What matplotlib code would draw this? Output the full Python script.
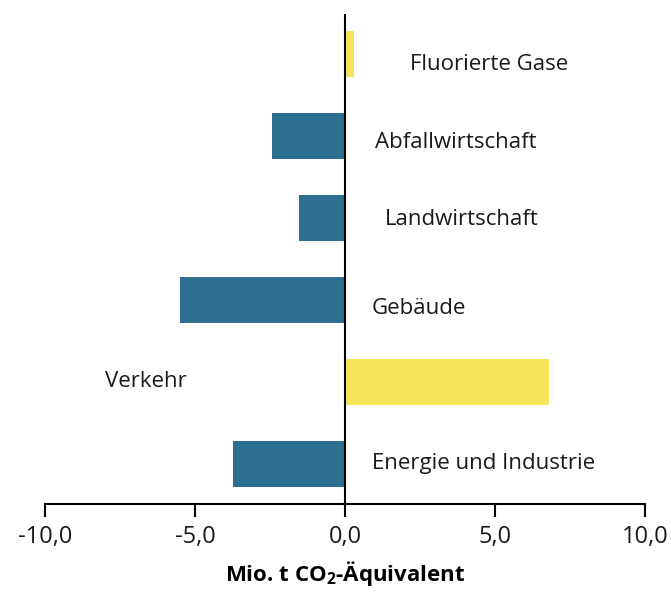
import matplotlib.pyplot as plt
from matplotlib.ticker import FuncFormatter

plt.rcParams['font.family'] = ['Open Sans', 'DejaVu Sans']
plt.rcParams['mathtext.fontset'] = 'custom'
plt.rcParams['mathtext.rm'] = 'Open Sans'
plt.rcParams['mathtext.bf'] = 'Open Sans:bold'

# sectors, bottom to top
sectors = ["Energie und Industrie", "Verkehr", "Gebäude",
           "Landwirtschaft", "Abfallwirtschaft", "Fluorierte Gase"]
# change in Mio. t CO2 equivalent
change = [-3.75, 6.8, -5.5, -1.55, -2.45, 0.3]
x_ticks = [-10, -5, 0, 5, 10]

# where each sector name sits (left edge, data units)
label_x = [0.9, -8.0, 0.9, 1.33, 1.0, 2.15]
label_dy = [0.0, 0.0, -0.1, -0.02, -0.08, -0.13]

blue = '#2e6e8e'
yellow = '#f8e45c'
colors = [blue if v < 0 else yellow for v in change]

fig = plt.figure(figsize=(6.71, 5.92), dpi=100)
ax = fig.add_axes([45 / 671, 1 - 504 / 592, 600 / 671, 490 / 592])

pos = range(len(sectors))
ax.barh(pos, change, height=0.56, color=colors)
ax.axvline(0, color='black', lw=1.5)

for i, name in enumerate(sectors):
    ax.text(label_x[i], i + label_dy[i], name, ha='left', va='center',
            fontsize=16, color='#1a1a1a')

ax.set_xlim(-10, 10)
ax.set_ylim(-0.49, 5.49)
ax.set_xticks(x_ticks)
ax.xaxis.set_major_formatter(FuncFormatter(lambda v, p: f"{v:.1f}".replace('.', ',')))
ax.set_yticks([])
ax.tick_params(axis='x', length=9, width=1.5, labelsize=17, pad=6,
               labelcolor='#1a1a1a')
for s in ['top', 'right', 'left']:
    ax.spines[s].set_visible(False)
ax.spines['bottom'].set_linewidth(1.5)

ax.set_xlabel(r'Mio. t CO$_\mathbf{2}$-Äquivalent', fontsize=16,
              fontweight='bold', labelpad=7)

fig.savefig('out.png', dpi=100)
